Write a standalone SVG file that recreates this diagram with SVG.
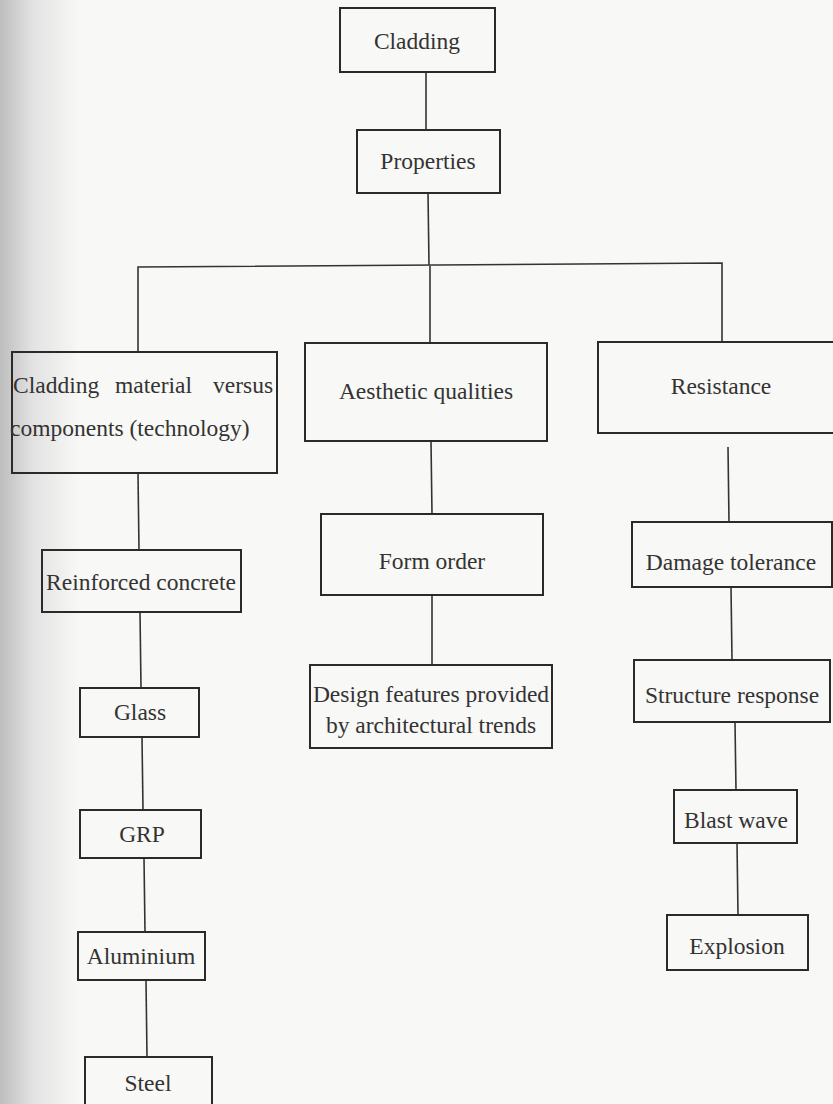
<svg xmlns="http://www.w3.org/2000/svg" width="833" height="1104" viewBox="0 0 833 1104" font-family="'Liberation Serif', 'Times New Roman', 'DejaVu Serif', serif">
<defs>
<linearGradient id="shadow" x1="0" y1="0" x2="1" y2="0">
<stop offset="0" stop-color="#bdbdbd"/>
<stop offset="0.4" stop-color="#e2e2e2"/>
<stop offset="1" stop-color="#f8f8f6"/>
</linearGradient>
<style>
.box{fill:none;stroke:#2a2a2a;stroke-width:2}
.ln{fill:none;stroke:#333;stroke-width:1.6}
.t{font-family:'Liberation Serif','Times New Roman','DejaVu Serif',serif;font-size:23.5px;fill:#333}
.c{text-anchor:middle}
</style>
</defs>
<rect width="833" height="1104" fill="#f8f8f6"/>
<rect width="80" height="1104" fill="url(#shadow)"/>
<g id="connectors">
<line class="ln" x1="426" y1="72" x2="426" y2="130"/>
<line class="ln" x1="428" y1="193" x2="429" y2="265"/>
<polyline class="ln" points="138,352 138,267 722,263 722,342"/>
<line class="ln" x1="430" y1="266" x2="430" y2="343"/>
<line class="ln" x1="138" y1="473" x2="139" y2="550"/>
<line class="ln" x1="140" y1="612" x2="141" y2="688"/>
<line class="ln" x1="142" y1="737" x2="143" y2="810"/>
<line class="ln" x1="144" y1="858" x2="145" y2="932"/>
<line class="ln" x1="146" y1="980" x2="147" y2="1057"/>
<line class="ln" x1="431" y1="441" x2="432" y2="514"/>
<line class="ln" x1="432" y1="595" x2="432" y2="665"/>
<line class="ln" x1="728" y1="447" x2="729" y2="522"/>
<line class="ln" x1="731" y1="587" x2="732" y2="660"/>
<line class="ln" x1="735" y1="722" x2="736" y2="790"/>
<line class="ln" x1="737" y1="843" x2="738" y2="915"/>
</g>
<g id="cladding"><rect class="box" x="340" y="8" width="155" height="64"/><text class="t c" x="417" y="49">Cladding</text></g>
<g id="properties"><rect class="box" x="357" y="130" width="143" height="63"/><text class="t c" x="428" y="169">Properties</text></g>
<g id="material"><rect class="box" x="12" y="352" width="265" height="121"/>
<text class="t" x="13" y="393">Cladding</text><text class="t" x="115" y="393">material</text><text class="t" x="213" y="393">versus</text>
<text class="t" x="10" y="436">components (technology)</text></g>
<g id="aesthetic"><rect class="box" x="305" y="343" width="242" height="98"/><text class="t c" x="426" y="399">Aesthetic qualities</text></g>
<g id="resistance"><rect class="box" x="598" y="342" width="245" height="91"/><text class="t c" x="721" y="394">Resistance</text></g>
<g id="reinforced"><rect class="box" x="42" y="550" width="199" height="62"/><text class="t c" x="141" y="590">Reinforced concrete</text></g>
<g id="glass"><rect class="box" x="80" y="688" width="119" height="49"/><text class="t c" x="140" y="720">Glass</text></g>
<g id="grp"><rect class="box" x="80" y="810" width="121" height="48"/><text class="t c" x="142" y="842">GRP</text></g>
<g id="aluminium"><rect class="box" x="78" y="932" width="127" height="48"/><text class="t c" x="141" y="964">Aluminium</text></g>
<g id="steel"><rect class="box" x="85" y="1057" width="127" height="50"/><text class="t c" x="148" y="1091">Steel</text></g>
<g id="formorder"><rect class="box" x="321" y="514" width="222" height="81"/><text class="t c" x="432" y="569">Form order</text></g>
<g id="design"><rect class="box" x="310" y="665" width="242" height="83"/><text class="t c" x="431" y="702">Design features provided</text><text class="t c" x="431" y="733">by architectural trends</text></g>
<g id="damage"><rect class="box" x="632" y="522" width="200" height="65"/><text class="t c" x="731" y="570">Damage tolerance</text></g>
<g id="structure"><rect class="box" x="634" y="660" width="196" height="62"/><text class="t c" x="732" y="703">Structure response</text></g>
<g id="blast"><rect class="box" x="674" y="790" width="123" height="53"/><text class="t c" x="736" y="828">Blast wave</text></g>
<g id="explosion"><rect class="box" x="667" y="915" width="141" height="55"/><text class="t c" x="737" y="954">Explosion</text></g>
</svg>
